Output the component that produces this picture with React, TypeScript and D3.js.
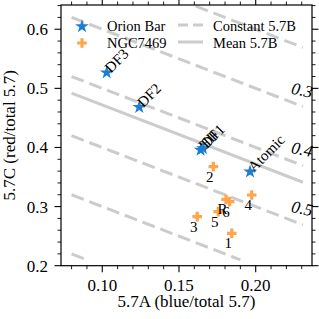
import React from "react";
import * as d3 from "d3";

const orionNames = ["DF3", "DF2", "HII", "DF1", "Atomic"];
const orionA = [0.1029, 0.1241, 0.1641, 0.1656, 0.1963];
const orionC = [0.5266, 0.468, 0.3958, 0.3985, 0.359];

const ngcNames = ["1", "2", "3", "4", "5", "R", "6"];
const ngcA = [0.1844, 0.1724, 0.1619, 0.1974, 0.1756, 0.1807, 0.183];
const ngcC = [0.2548, 0.3675, 0.2829, 0.3196, 0.2914, 0.3123, 0.3083];

const constB = [0.2, 0.3, 0.4, 0.5, 0.6, 0.7];
const labelB = [0.3, 0.4, 0.5];
const labelText = ["0.3", "0.4", "0.5"];
const meanB = 0.428;
const lineAStart = 0.08;
const lineAEnd = 0.2308;
const lineCMin = 0.21;
const labelA = 0.2295;

const xTicks = [0.1, 0.15, 0.2];
const xTickLabels = ["0.10", "0.15", "0.20"];
const yTicks = [0.2, 0.3, 0.4, 0.5, 0.6];
const yTickLabels = ["0.2", "0.3", "0.4", "0.5", "0.6"];

const W = 319;
const H = 319;
const L = 61, R = 312, T = 5, B = 265.7;
const BLUE = "#1a7fd2";
const ORANGE = "#ffa64d";
const GRAY = "#cccccc";
const FONT = "'Liberation Serif', 'Times New Roman', serif";

export default function App() {
  const x = d3.scaleLinear().domain([0.0731, 0.2367]).range([L, R]);
  const y = d3.scaleLinear().domain([0.2, 0.641]).range([B, T]);

  const xMinor = d3.range(0.08, 0.2367, 0.01).filter((v) => !xTicks.some((t) => Math.abs(t - v) < 1e-6));
  const yMinor = d3.range(0.2, 0.641, 0.02).filter((v) => !yTicks.some((t) => Math.abs(t - v) < 1e-6));

  const line = d3.line<[number, number]>().x((d) => x(d[0])).y((d) => y(d[1]));
  const segFor = (b: number): [number, number][] => {
    const aEnd = Math.min(lineAEnd, 1 - b - lineCMin);
    return [
      [lineAStart, 1 - b - lineAStart],
      [aEnd, 1 - b - aEnd],
    ];
  };

  const star = d3.symbol().type(d3.symbolStar).size(58)();
  const cross = d3.symbol().type(d3.symbolCross).size(52)();

  const MAJ = 6.5, MIN = 3.5;

  return (
    <svg width={W} height={H} style={{ position: "absolute", left: 0, top: 0 }} fontFamily={FONT}>
      <rect width={W} height={H} fill="white" />
      <defs>
        <clipPath id="plotclip">
          <rect x={L} y={T} width={R - L} height={B - T} />
        </clipPath>
      </defs>
      <g clipPath="url(#plotclip)">
        {constB.map((b) => (
          <path key={b} d={line(segFor(b)) || ""} stroke={GRAY} strokeWidth={3} fill="none" strokeDasharray="13,6" />
        ))}
        <path d={line(segFor(meanB)) || ""} stroke={GRAY} strokeWidth={3} fill="none" />
      </g>
      {labelB.map((b, i) => (
        <text
          key={b}
          x={x(labelA)}
          y={y(1 - b - labelA) - 10}
          fontSize={17}
          fontStyle="italic"
          textAnchor="middle"
          transform={`rotate(12, ${x(labelA)}, ${y(1 - b - labelA) - 10})`}
        >
          {labelText[i]}
        </text>
      ))}
      {ngcA.map((a, i) => (
        <g key={"n" + i}>
          <path d={cross || ""} transform={`translate(${x(a)},${y(ngcC[i])})`} fill={ORANGE} />
          <text x={x(a) - 3.5} y={y(ngcC[i]) + 15} fontSize={15} textAnchor="middle">
            {ngcNames[i]}
          </text>
        </g>
      ))}
      {orionA.map((a, i) => (
        <g key={"o" + i}>
          <path d={star || ""} transform={`translate(${x(a)},${y(orionC[i])})`} fill={BLUE} />
          <text
            x={x(a) + 4}
            y={y(orionC[i]) + 1}
            fontSize={15}
            transform={`rotate(-45, ${x(a) + 4}, ${y(orionC[i]) + 1})`}
          >
            {orionNames[i]}
          </text>
        </g>
      ))}
      <rect x={L} y={T} width={R - L} height={B - T} fill="none" stroke="black" strokeWidth={1.2} />
      {xTicks.map((t, i) => (
        <g key={"xt" + t}>
          <line x1={x(t)} x2={x(t)} y1={B} y2={B + MAJ} stroke="black" strokeWidth={1.1} />
          <line x1={x(t)} x2={x(t)} y1={T} y2={T - MAJ} stroke="black" strokeWidth={1.1} />
          <text x={x(t)} y={291} fontSize={17} textAnchor="middle">
            {xTickLabels[i]}
          </text>
        </g>
      ))}
      {xMinor.map((t) => (
        <g key={"xm" + t}>
          <line x1={x(t)} x2={x(t)} y1={B} y2={B + MIN} stroke="black" strokeWidth={0.9} />
          <line x1={x(t)} x2={x(t)} y1={T} y2={T - MIN} stroke="black" strokeWidth={0.9} />
        </g>
      ))}
      {yTicks.map((t, i) => (
        <g key={"yt" + t}>
          <line x1={L} x2={L - MAJ} y1={y(t)} y2={y(t)} stroke="black" strokeWidth={1.1} />
          <line x1={R} x2={R + MAJ} y1={y(t)} y2={y(t)} stroke="black" strokeWidth={1.1} />
          <text x={48} y={y(t)} dy="0.35em" fontSize={17} textAnchor="end">
            {yTickLabels[i]}
          </text>
        </g>
      ))}
      {yMinor.map((t) => (
        <g key={"ym" + t}>
          <line x1={L} x2={L - MIN} y1={y(t)} y2={y(t)} stroke="black" strokeWidth={0.9} />
          <line x1={R} x2={R + MIN} y1={y(t)} y2={y(t)} stroke="black" strokeWidth={0.9} />
        </g>
      ))}
      <text x={(L + R) / 2} y={307} fontSize={17} textAnchor="middle">
        5.7A (blue/total 5.7)
      </text>
      <text x={15} y={(T + B) / 2} fontSize={17} textAnchor="middle" transform={`rotate(-90, 15, ${(T + B) / 2})`}>
        5.7C (red/total 5.7)
      </text>
      <g>
        <path d={star || ""} transform="translate(82,26.5)" fill={BLUE} />
        <path d={cross || ""} transform="translate(82,43)" fill={ORANGE} />
        <text x={107} y={31} fontSize={14.5}>Orion Bar</text>
        <text x={107} y={47.5} fontSize={14.5}>NGC7469</text>
        <line x1={178} x2={203} y1={25} y2={25} stroke={GRAY} strokeWidth={3} strokeDasharray="10,5" />
        <line x1={178} x2={203} y1={42} y2={42} stroke={GRAY} strokeWidth={3} />
        <text x={213} y={31} fontSize={14.5}>Constant 5.7B</text>
        <text x={213} y={47.5} fontSize={14.5}>Mean 5.7B</text>
      </g>
    </svg>
  );
}
